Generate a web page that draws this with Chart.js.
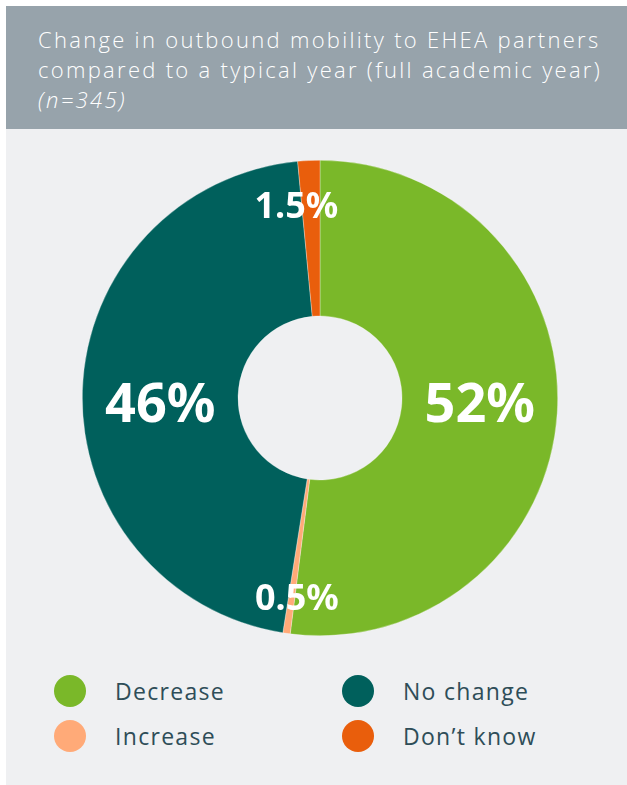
<!DOCTYPE html>
<html>
<head>
<meta charset="utf-8">
<script src="https://cdn.jsdelivr.net/npm/chart.js@4/dist/chart.umd.min.js"></script>
<style>
  html, body { margin: 0; padding: 0; background: #fff; }
  body { width: 627px; height: 785px; position: relative; overflow: hidden; font-family: "Open Sans", sans-serif; }
  #head { position: absolute; left: 6px; top: 6px; width: 621px; height: 123px; background: #97a3ab; }
  #title { position: absolute; left: 32px; top: 18px; color: #fff; font-size: 22px; font-weight: 300; line-height: 30px; letter-spacing: 2.3px; white-space: nowrap; }
  #panel { position: absolute; left: 6px; top: 129px; width: 621px; height: 656px; background: #eff0f2; }
  #wrap { position: absolute; left: 82px; top: 160px; width: 476px; height: 476px; }
  #legend { position: absolute; left: 54px; top: 675px; display: grid; grid-template-rows: 32px 32px; grid-template-columns: 288px 260px; grid-auto-flow: column; row-gap: 13px; }
  .item { display: flex; align-items: center; font-size: 23px; letter-spacing: 1.3px; color: #2e4d58; }
  .dot { width: 32px; height: 32px; border-radius: 50%; margin-right: 29px; }
</style>
</head>
<body>
<div id="head"><div id="title">Change in outbound mobility to EHEA partners<br>compared to a typical year (full academic year)<br><i>(n=345)</i></div></div>
<div id="panel"></div>
<div id="wrap"><canvas id="myChart"></canvas></div>
<div id="legend"></div>
<script>
const labels = ['Decrease', 'Increase', 'No change', 'Don\u2019t know'];
const values = [52, 0.5, 46, 1.5];
const valueLabels = ['52%', '0.5%', '46%', '1.5%'];
const colors = ['#7ab829', '#ffaa78', '#00605c', '#e95e0c'];

// legend
const legend = document.getElementById('legend');
for (let i = 0; i < labels.length; i++) {
  const it = document.createElement('div');
  it.className = 'item';
  it.innerHTML = '<span class="dot" style="background:' + colors[i] + '"></span>' + labels[i];
  legend.appendChild(it);
}

// where each value label sits: share of outer radius (null = middle of ring) + angle shift in degrees
const placing = [
  { r: null, shift: -1.6, size: 54 },
  { r: 0.845, shift: -1.5, size: 36 },
  { r: null, shift: -3.8, size: 54 },
  { r: 0.815, shift: -4.3, size: 36 }
];

const sliceLabels = {
  id: 'sliceLabels',
  afterDatasetsDraw(chart) {
    const ctx = chart.ctx;
    const meta = chart.getDatasetMeta(0);
    meta.data.forEach((arc, i) => {
      const p = placing[i];
      const mid = (arc.startAngle + arc.endAngle) / 2 + p.shift * Math.PI / 180;
      const rr = p.r === null ? (arc.innerRadius + arc.outerRadius) / 2 : arc.outerRadius * p.r;
      const x = arc.x + Math.cos(mid) * rr;
      const y = arc.y + Math.sin(mid) * rr;
      ctx.save();
      ctx.fillStyle = '#fff';
      ctx.font = 'bold ' + p.size + 'px "Noto Sans"';
      ctx.textAlign = 'center';
      ctx.textBaseline = 'alphabetic';
      ctx.fillText(valueLabels[i], x, y + p.size * 0.34);
      ctx.restore();
    });
  }
};

const data = {
  labels: labels,
  datasets: [{
    data: values,
    backgroundColor: colors,
    borderColor: 'rgba(255,255,255,0.5)',
    borderWidth: 0.6
  }]
};

const config = {
  type: 'doughnut',
  data: data,
  options: {
    responsive: true,
    maintainAspectRatio: false,
    animation: false,
    cutout: '34.5%',
    layout: { padding: 0 },
    plugins: { legend: { display: false }, tooltip: { enabled: false } }
  },
  plugins: [sliceLabels]
};
const myChart = new Chart(document.getElementById('myChart'), config);
</script>
</body>
</html>
